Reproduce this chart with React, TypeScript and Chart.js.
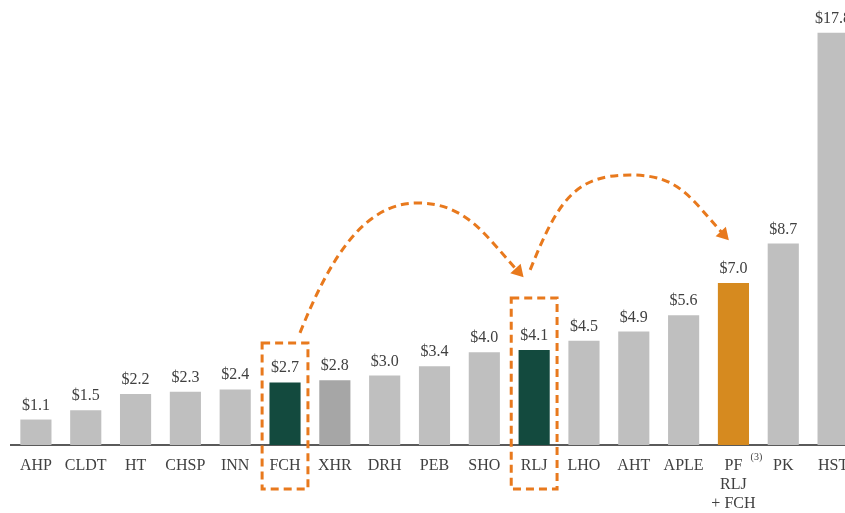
import React, { useEffect, useRef } from "react";
import { Chart, registerables } from "chart.js";

Chart.register(...registerables);

const categories: (string | string[])[] = [
  "AHP", "CLDT", "HT", "CHSP", "INN", "FCH", "XHR", "DRH", "PEB", "SHO",
  "RLJ", "LHO", "AHT", "APLE", ["PF", "RLJ", "+ FCH"], "PK", "HST",
];
const values = [1.1, 1.5, 2.2, 2.3, 2.4, 2.7, 2.8, 3.0, 3.4, 4.0, 4.1, 4.5, 4.9, 5.6, 7.0, 8.7, 17.8];
const barColors = [
  "#bfbfbf", "#bfbfbf", "#bfbfbf", "#bfbfbf", "#bfbfbf", "#134a3e", "#a6a6a6", "#bfbfbf", "#bfbfbf", "#bfbfbf",
  "#134a3e", "#bfbfbf", "#bfbfbf", "#bfbfbf", "#d68a1f", "#bfbfbf", "#bfbfbf",
];
const highlighted = [5, 10];
const FONT = "'Liberation Serif', 'Times New Roman', serif";
const TEXT = "#404040";
const ORANGE = "#e8791d";

const overlayPlugin = {
  id: "overlay",
  afterDraw(chart: any) {
    const ctx = chart.ctx;
    const xs = chart.scales.x;
    const ys = chart.scales.y;
    const meta = chart.getDatasetMeta(0);
    // value labels
    ctx.save();
    ctx.font = `16px ${FONT}`;
    ctx.fillStyle = TEXT;
    ctx.textAlign = "center";
    ctx.textBaseline = "alphabetic";
    meta.data.forEach((bar: any, i: number) => {
      ctx.fillText("$" + values[i].toFixed(1), bar.x, bar.y - 10);
    });
    // superscript
    ctx.font = `10px ${FONT}`;
    ctx.fillText("(3)", xs.getPixelForValue(14) + 23, ys.getPixelForValue(0) + 15);
    ctx.restore();

    const cw = xs.getPixelForValue(1) - xs.getPixelForValue(0);
    const px = (i: number) => xs.getPixelForValue(0) + i * cw;
    const py = (v: number) => ys.getPixelForValue(v);

    ctx.save();
    ctx.strokeStyle = ORANGE;
    ctx.fillStyle = ORANGE;
    ctx.lineWidth = 3;
    ctx.setLineDash([8, 5]);
    // dashed boxes
    const boxTops = [4.4, 6.35];
    highlighted.forEach((idx, k) => {
      const l = px(idx) - 0.46 * cw;
      const r = px(idx) + 0.46 * cw;
      const t = py(boxTops[k]);
      const b = py(0) + 44;
      ctx.strokeRect(l, t, r - l, b - t);
    });

    const arc = (s: number[], p: number[], e: number[]) => {
      const S = [px(s[0]), py(s[1])];
      const P = [px(p[0]), py(p[1])];
      const E = [px(e[0]), py(e[1])];
      const c2 = [E[0] - 35, E[1] - 38];
      ctx.setLineDash([8, 5]);
      ctx.beginPath();
      ctx.moveTo(S[0], S[1]);
      ctx.bezierCurveTo(S[0] + 28, S[1] - 70, P[0] - 55, P[1], P[0], P[1]);
      ctx.bezierCurveTo(P[0] + 50, P[1], c2[0], c2[1], E[0], E[1]);
      ctx.stroke();
      const dx = E[0] - c2[0];
      const dy = E[1] - c2[1];
      const len = Math.hypot(dx, dy);
      const ux = dx / len, uy = dy / len;
      const tip = [E[0] + ux * 5, E[1] + uy * 5];
      const base = [E[0] - ux * 7, E[1] - uy * 7];
      ctx.setLineDash([]);
      ctx.beginPath();
      ctx.moveTo(tip[0], tip[1]);
      ctx.lineTo(base[0] - uy * 7, base[1] + ux * 7);
      ctx.lineTo(base[0] + uy * 7, base[1] - ux * 7);
      ctx.closePath();
      ctx.fill();
    };
    arc([5.3, 4.84], [7.65, 10.45], [9.72, 7.4]);
    arc([9.92, 7.56], [11.93, 11.66], [13.84, 9.0]);
    ctx.restore();
  },
};

export default function App() {
  const ref = useRef<HTMLCanvasElement>(null);
  useEffect(() => {
    if (!ref.current) return;
    const chart = new Chart(ref.current, {
      type: "bar",
      data: {
        labels: categories,
        datasets: [
          {
            data: values,
            backgroundColor: barColors,
            borderWidth: 0,
            categoryPercentage: 1,
            barPercentage: 0.625,
          },
        ],
      },
      options: {
        responsive: false,
        animation: false,
        layout: { padding: { left: 11, right: 12, top: 5, bottom: 0 } },
        plugins: { legend: { display: false }, tooltip: { enabled: false } },
        scales: {
          x: {
            z: 1,
            grid: { display: false, drawTicks: false },
            border: { display: true, color: "#5a5a5a", width: 2 },
            ticks: {
              padding: 11,
              color: TEXT,
              font: { family: FONT, size: 16, lineHeight: 1.2 },
              maxRotation: 0,
              autoSkip: false,
            },
            afterFit: (scale: any) => {
              scale.height = 68;
            },
          },
          y: {
            display: false,
            min: 0,
            max: 19,
          },
        },
      },
      plugins: [overlayPlugin],
    });
    return () => chart.destroy();
  }, []);
  return (
    <div style={{ position: "fixed", left: 0, top: 0, width: 845, height: 513, overflow: "hidden", background: "#fff" }}>
      <canvas ref={ref} width={870} height={513} style={{ width: 870, height: 513, display: "block" }} />
    </div>
  );
}
